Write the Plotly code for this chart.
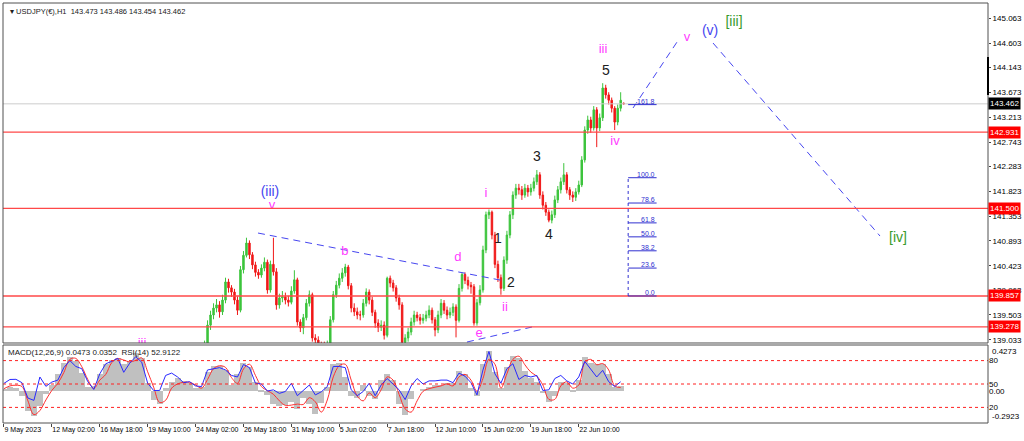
import plotly.graph_objects as go

# USDJPY H1 - candles grouped 4 bars each, x = H1 bar number counted from 9 May 2023
candle_start = 268
candle_step = 4

opens = [138.70, 138.94, 139.31, 139.50, 139.63, 139.69, 139.56, 139.78, 140.12, 140.01,
         139.93, 139.78, 139.59, 140.35, 140.62, 140.85, 140.63, 140.44, 140.30, 140.25,
         140.38, 140.49, 139.97, 140.45, 140.31, 139.69, 139.82, 139.84, 139.78, 139.74,
         139.95, 140.16, 139.37, 139.26, 139.45, 139.72, 139.88, 139.07, 139.03, 138.94,
         138.94, 138.84, 138.88, 139.41, 139.88, 140.06, 140.19, 140.29, 140.40, 140.05,
         139.63, 139.56, 139.50, 139.50, 139.72, 139.93, 139.78, 139.55, 139.35, 139.27,
         139.31, 139.12, 140.19, 140.10, 140.01, 139.82, 139.69, 138.99, 139.07, 139.18,
         139.37, 139.50, 139.45, 139.40, 139.44, 139.50, 139.59, 139.41, 139.22, 139.50,
         139.72, 139.59, 139.50, 139.55, 139.65, 139.40, 140.00, 140.26, 140.15, 140.06,
         140.03, 139.35, 139.73, 139.97, 140.72, 141.38, 141.43, 141.00, 140.45, 140.20,
         140.00, 140.53, 141.00, 141.38, 141.75, 141.88, 141.85, 141.75, 141.88, 141.81,
         141.88, 142.00, 142.13, 141.75, 141.56, 141.43, 141.28, 141.38, 141.66, 141.85,
         142.00, 142.13, 141.85, 141.75, 141.71, 141.81, 141.94, 142.41, 142.97, 143.16,
         143.01, 143.35, 143.01, 143.20, 143.76, 143.63, 143.53, 143.38, 143.12, 143.38,
         143.473]
highs = [139.02, 139.40, 139.58, 139.72, 139.80, 139.76, 139.88, 140.20, 140.18, 140.06,
         139.99, 139.85, 140.42, 140.70, 140.95, 140.90, 140.68, 140.50, 140.36, 140.45,
         140.58, 140.54, 140.52, 140.95, 140.38, 139.90, 139.95, 139.92, 139.86, 140.04,
         140.34, 140.20, 139.42, 139.52, 139.80, 139.96, 139.92, 139.14, 139.10, 139.00,
         139.00, 139.02, 139.48, 139.95, 140.14, 140.28, 140.38, 140.46, 140.44, 140.10,
         139.72, 139.64, 139.58, 139.80, 140.00, 139.98, 139.84, 139.60, 139.42, 139.40,
         139.38, 140.22, 140.24, 140.16, 140.06, 139.88, 139.74, 139.14, 139.26, 139.45,
         139.58, 139.56, 139.52, 139.52, 139.58, 139.68, 139.64, 139.46, 139.58, 139.80,
         139.78, 139.66, 139.64, 139.72, 139.70, 140.08, 140.30, 140.30, 140.22, 140.12,
         140.08, 139.80, 140.06, 140.80, 141.44, 141.48, 141.46, 141.06, 140.52, 140.26,
         140.60, 141.08, 141.45, 141.82, 141.96, 141.96, 141.92, 141.96, 141.94, 141.96,
         142.08, 142.22, 142.18, 141.82, 141.62, 141.48, 141.46, 141.74, 141.92, 142.08,
         142.35, 142.18, 141.90, 141.82, 141.88, 142.02, 142.48, 143.04, 143.24, 143.22,
         143.42, 143.40, 143.28, 143.85, 143.82, 143.68, 143.58, 143.42, 143.45, 143.68,
         143.486]
lows = [138.62, 138.88, 139.22, 139.42, 139.55, 139.45, 139.50, 139.72, 139.92, 139.84,
        139.70, 139.50, 139.55, 140.28, 140.58, 140.55, 140.36, 140.22, 140.18, 140.20,
        140.32, 139.90, 139.92, 140.24, 139.60, 139.62, 139.74, 139.70, 139.66, 139.70,
        139.90, 139.30, 139.18, 139.14, 139.40, 139.66, 139.00, 138.95, 138.86, 138.85,
        138.76, 138.78, 138.84, 139.36, 139.82, 140.00, 140.12, 140.22, 139.98, 139.55,
        139.48, 139.42, 139.40, 139.45, 139.66, 139.70, 139.48, 139.26, 139.18, 139.20,
        139.04, 139.08, 140.02, 139.94, 139.75, 139.60, 138.92, 138.90, 139.00, 139.12,
        139.30, 139.38, 139.32, 139.34, 139.38, 139.44, 139.34, 139.10, 139.16, 139.44,
        139.52, 139.42, 139.44, 139.48, 139.08, 139.36, 139.94, 140.08, 139.98, 139.90,
        139.30, 139.30, 139.68, 139.92, 140.66, 141.30, 140.92, 140.38, 140.12, 139.88,
        139.95, 140.46, 140.94, 141.30, 141.68, 141.76, 141.66, 141.70, 141.72, 141.74,
        141.82, 141.94, 141.68, 141.48, 141.36, 141.24, 141.22, 141.32, 141.60, 141.78,
        141.94, 141.78, 141.66, 141.62, 141.64, 141.76, 141.90, 142.36, 142.90, 142.92,
        142.96, 142.65, 142.95, 143.14, 143.56, 143.45, 143.30, 142.97, 143.06, 143.32,
        143.454]
closes = [138.94, 139.31, 139.50, 139.63, 139.69, 139.56, 139.78, 140.12, 140.01, 139.93,
          139.78, 139.59, 140.35, 140.62, 140.85, 140.63, 140.44, 140.30, 140.25, 140.38,
          140.49, 139.97, 140.45, 140.31, 139.69, 139.82, 139.84, 139.78, 139.74, 139.95,
          140.16, 139.37, 139.26, 139.45, 139.72, 139.88, 139.07, 139.03, 138.94, 138.94,
          138.84, 138.88, 139.41, 139.88, 140.06, 140.19, 140.29, 140.40, 140.05, 139.63,
          139.56, 139.50, 139.50, 139.72, 139.93, 139.78, 139.55, 139.35, 139.27, 139.31,
          139.12, 140.19, 140.10, 140.01, 139.82, 139.69, 138.99, 139.07, 139.18, 139.37,
          139.50, 139.45, 139.40, 139.44, 139.50, 139.59, 139.41, 139.22, 139.50, 139.72,
          139.59, 139.50, 139.55, 139.65, 139.40, 140.00, 140.26, 140.15, 140.06, 140.03,
          139.35, 139.73, 139.97, 140.72, 141.38, 141.43, 141.00, 140.45, 140.20, 140.00,
          140.53, 141.00, 141.38, 141.75, 141.88, 141.85, 141.75, 141.88, 141.81, 141.88,
          142.00, 142.13, 141.75, 141.56, 141.43, 141.28, 141.38, 141.66, 141.85, 142.00,
          142.13, 141.85, 141.75, 141.71, 141.81, 141.94, 142.41, 142.97, 143.16, 143.01,
          143.35, 143.01, 143.20, 143.76, 143.63, 143.53, 143.38, 143.12, 143.38, 143.53,
          143.462]

# indicator window: one value every 8 H1 bars
ind_step = 8
macd_hist = [0.021, 0.038, 0.027, -0.044, -0.177, -0.227, -0.133, -0.021, 0.059, 0.156,
             0.265, 0.321, 0.280, 0.168, 0.044, 0.050, 0.162, 0.256, 0.292, 0.309,
             0.250, 0.280, 0.351, 0.309, 0.074, -0.080, -0.118, 0.029, 0.088, 0.127,
             0.097, 0.074, 0.029, 0.044, 0.177, 0.236, 0.236, 0.197, 0.059, 0.162,
             0.262, 0.221, 0.088, 0.006, -0.038, -0.118, -0.139, -0.127, -0.097, -0.162,
             -0.059, -0.118, -0.206, -0.109, 0.044, 0.250, 0.262, 0.133, -0.044, -0.059,
             0.059, -0.044, -0.068, 0.103, 0.162, 0.103, -0.118, -0.215, -0.074, 0.000,
             0.024, 0.044, 0.059, 0.059, 0.074, 0.080, 0.186, 0.162, 0.029, -0.044,
             0.250, 0.374, 0.177, 0.029, 0.221, 0.324, 0.309, 0.192, 0.127, 0.088,
             -0.015, -0.097, -0.044, 0.088, 0.080, 0.015, 0.103, 0.315, 0.265, 0.250,
             0.250, 0.162, 0.044, 0.047]
macd_signal = [0.024, 0.050, 0.056, 0.044, -0.088, -0.215, -0.177, -0.080, 0.009, 0.074,
               0.174, 0.295, 0.304, 0.227, 0.109, 0.027, 0.103, 0.156, 0.265, 0.301,
               0.289, 0.271, 0.286, 0.309, 0.180, 0.038, -0.103, -0.083, 0.029, 0.068,
               0.083, 0.083, 0.059, 0.029, 0.109, 0.209, 0.236, 0.221, 0.127, 0.074,
               0.206, 0.250, 0.147, 0.044, 0.006, -0.027, -0.088, -0.130, -0.127, -0.118,
               -0.121, -0.059, -0.097, -0.192, -0.080, 0.133, 0.236, 0.250, 0.103, -0.044,
               -0.088, -0.015, -0.059, 0.015, 0.133, 0.103, -0.029, -0.162, -0.192, -0.088,
               0.000, 0.024, 0.038, 0.050, 0.068, 0.050, 0.133, 0.156, 0.103, 0.000,
               0.118, 0.295, 0.250, 0.029, 0.162, 0.295, 0.324, 0.245, 0.177, 0.139,
               0.059, -0.074, -0.074, 0.050, 0.088, 0.029, 0.059, 0.265, 0.295, 0.245,
               0.256, 0.197, 0.050, 0.035]
rsi = [50.8, 55.8, 56.0, 51.7, 32.0, 29.0, 59.0, 47.0, 52.5, 55.0,
       71.0, 80.0, 72.5, 69.6, 53.0, 43.0, 63.0, 76.0, 79.0, 83.0,
       65.0, 76.7, 85.0, 78.0, 51.0, 41.7, 41.7, 61.0, 64.0, 59.0,
       51.7, 53.0, 47.5, 46.7, 68.0, 69.6, 71.0, 68.0, 61.0, 59.0,
       75.0, 71.0, 51.0, 50.0, 41.0, 42.5, 38.0, 40.4, 51.0, 35.0,
       41.7, 48.7, 36.0, 40.0, 46.7, 72.5, 72.5, 71.0, 42.5, 35.0,
       40.4, 51.0, 35.0, 48.7, 57.0, 50.0, 42.5, 30.0, 47.5, 57.0,
       50.0, 54.0, 54.0, 55.0, 55.0, 51.7, 64.0, 60.0, 51.7, 36.0,
       68.0, 91.7, 63.0, 51.0, 69.6, 76.0, 55.8, 61.0, 59.0, 61.0,
       41.7, 42.5, 57.0, 61.0, 54.0, 50.0, 59.0, 79.0, 69.6, 59.0,
       67.5, 53.0, 46.7, 52.9]

tick_bars = [0, 64, 128, 192, 256, 320, 384, 448, 512, 576, 640, 704, 768]
tick_text = ["9 May 2023", "12 May 02:00", "16 May 18:00", "19 May 10:00", "24 May 02:00",
             "26 May 18:00", "31 May 10:00", "5 Jun 02:00", "7 Jun 18:00", "12 Jun 10:00",
             "15 Jun 02:00", "19 Jun 18:00", "22 Jun 10:00"]
price_ticks = [139.033, 139.503, 139.963, 140.423, 140.893, 141.353, 141.823,
               142.283, 142.743, 143.213, 143.673, 144.143, 144.603, 145.063]

red_levels = [142.931, 141.500, 139.857, 139.278]
last_price = 143.462

# fibonacci from the wave ii low
fib_low = 139.857
fib_high = 142.076
fib_ratios = [0.0, 23.6, 38.2, 50.0, 61.8, 78.6, 100.0, 161.8]
fib_bars = [834, 872]

# trend / projection lines (bar, price)
upper_line = ([339.4, 669.4], [141.038, 140.138])
lower_line = ([618.6, 705.5], [138.993, 139.275])
proj_up = ([840.5, 899.3], [143.384, 144.622])
proj_down = ([947.4, 1170.5], [144.603, 140.982])

# wave counts
pink_labels = ["v", "b", "d", "e", "i", "ii", "iii", "iii", "iv", "v"]
pink_x = [358.1, 455.6, 606.6, 634.7, 644.0, 669.4, 184.4, 800.4, 816.4, 912.6]
pink_y = [141.55, 140.68, 140.57, 139.14, 141.77, 139.63, 138.97, 144.47, 142.75, 144.70]
black_labels = ["1", "2", "3", "4", "5"]
black_x = [660.0, 677.4, 712.2, 728.2, 804.4]
black_y = [140.91, 140.10, 142.46, 141.00, 144.06]
blue_labels = ["(iii)", "(v)"]
blue_x = [355.4, 943.4]
blue_y = [141.79, 144.81]
green_labels = ["[iii]", "[iv]"]
green_x = [975.4, 1194.6]
green_y = [144.98, 140.93]

GREEN = "#3cc43c"
RED = "#f01818"
BLUE = "#4646f0"
PINK = "#ff3cff"
FONT = "Liberation Sans"

candle_x = [candle_start + candle_step * i for i in range(len(closes))]
ind_x = [ind_step * i for i in range(len(rsi))]

fig = go.Figure()

fig.add_trace(go.Bar(x=ind_x, y=macd_hist, width=ind_step, xaxis="x", yaxis="y2",
                     marker=dict(color="#c0c0c0", line=dict(width=0)), hoverinfo="skip"))
fig.add_trace(go.Scatter(x=ind_x, y=macd_signal, mode="lines", xaxis="x", yaxis="y2",
                         line=dict(color="#ff3030", width=1, shape="spline"), hoverinfo="skip"))
fig.add_trace(go.Scatter(x=ind_x, y=rsi, mode="lines", xaxis="x", yaxis="y3",
                         line=dict(color="#2828ff", width=1), hoverinfo="skip"))

fig.add_trace(go.Candlestick(x=candle_x, open=opens, high=highs, low=lows, close=closes,
                             xaxis="x", yaxis="y", whiskerwidth=0,
                             increasing=dict(line=dict(color=GREEN, width=1), fillcolor=GREEN),
                             decreasing=dict(line=dict(color=RED, width=1), fillcolor=RED),
                             hoverinfo="skip"))

for xs, ys in [upper_line, lower_line, proj_up, proj_down]:
    fig.add_trace(go.Scatter(x=xs, y=ys, mode="lines", xaxis="x", yaxis="y",
                             line=dict(color=BLUE, width=1, dash="7px,5px"), hoverinfo="skip"))

for labels, xs, ys, colour, size in [(pink_labels, pink_x, pink_y, PINK, 13),
                                     (black_labels, black_x, black_y, "#202020", 14),
                                     (blue_labels, blue_x, blue_y, BLUE, 14),
                                     (green_labels, green_x, green_y, "#3a9a2a", 14)]:
    fig.add_trace(go.Scatter(x=xs, y=ys, text=labels, mode="text", textposition="middle center",
                             xaxis="x", yaxis="y", cliponaxis=True,
                             textfont=dict(family=FONT, size=size, color=colour), hoverinfo="skip"))

shapes = []
# horizontal levels
for lvl in red_levels:
    shapes.append(dict(type="line", xref="paper", x0=0, x1=1, yref="y", y0=lvl, y1=lvl,
                       line=dict(color="#ff4848", width=1.3)))
shapes.append(dict(type="line", xref="paper", x0=0, x1=1, yref="y", y0=last_price, y1=last_price,
                   line=dict(color="#cccccc", width=1)))
# fibonacci
fib_prices = [fib_low + r / 100 * (fib_high - fib_low) for r in fib_ratios]
for p in fib_prices:
    shapes.append(dict(type="line", xref="x", x0=fib_bars[0], x1=fib_bars[1], yref="y", y0=p, y1=p,
                       line=dict(color="#3030d0", width=1)))
shapes.append(dict(type="line", xref="x", x0=fib_bars[0], x1=fib_bars[0], yref="y",
                   y0=fib_low, y1=fib_high, line=dict(color="#3030d0", width=1, dash="dot")))
# rsi levels
for lvl in [80, 50, 20]:
    shapes.append(dict(type="line", xref="paper", x0=0, x1=1, yref="y3", y0=lvl, y1=lvl,
                       line=dict(color="#ff2020", width=1, dash="3px,3px")))
# frames
shapes.append(dict(type="rect", xref="paper", yref="paper", x0=0, x1=1, y0=0.1905, y1=1,
                   line=dict(color="#505050", width=1)))
shapes.append(dict(type="rect", xref="paper", yref="paper", x0=0, x1=1, y0=0, y1=0.1857,
                   line=dict(color="#505050", width=1)))
shapes.append(dict(type="line", xref="paper", x0=1, x1=1, yref="y", y0=143.63, y1=144.34,
                   line=dict(color="black", width=2)))

annotations = []
for lvl in red_levels:
    annotations.append(dict(xref="paper", x=1, xanchor="left", xshift=0, yref="y", y=lvl,
                            text=f"{lvl:.3f}", showarrow=False, bgcolor="#ff0000", borderpad=1,
                            font=dict(family=FONT, size=8, color="white")))
annotations.append(dict(xref="paper", x=1, xanchor="left", xshift=0, yref="y", y=last_price,
                        text=f"{last_price:.3f}", showarrow=False, bgcolor="black", borderpad=1,
                        font=dict(family=FONT, size=8, color="white")))
for r, p in zip(fib_ratios, fib_prices):
    annotations.append(dict(xref="x", x=fib_bars[1], xanchor="right", yref="y", y=p, yanchor="bottom",
                            text=f"{r:.1f}", showarrow=False, yshift=-2,
                            font=dict(family=FONT, size=7, color="#3030d0")))
annotations.append(dict(xref="paper", x=0, xanchor="left", xshift=5, yref="paper", y=1, yanchor="top",
                        yshift=-2, text="▾ USDJPY(€),H1  143.473 143.486 143.454 143.462",
                        showarrow=False, font=dict(family=FONT, size=7.5, color="#202020")))
annotations.append(dict(xref="paper", x=0, xanchor="left", xshift=3, yref="paper", y=0.1857,
                        yanchor="top", yshift=-1,
                        text="MACD(12,26,9) 0.0473 0.0352  RSI(14) 52.9122",
                        showarrow=False, font=dict(family=FONT, size=8, color="#202020")))
annotations.append(dict(xref="paper", x=1, xanchor="left", xshift=2, yref="y2 domain", y=1,
                        yanchor="top", text="0.4273", showarrow=False,
                        font=dict(family=FONT, size=8, color="black")))
annotations.append(dict(xref="paper", x=1, xanchor="left", xshift=2, yref="y2 domain", y=0,
                        yanchor="bottom", text="-0.2923", showarrow=False,
                        font=dict(family=FONT, size=8, color="black")))

fig.update_layout(
    width=1024, height=441,
    margin=dict(l=3, r=36, t=3, b=18, autoexpand=False),
    paper_bgcolor="white", plot_bgcolor="white",
    showlegend=False,
    font=dict(family=FONT, size=8, color="black"),
    bargap=0,
    shapes=shapes,
    annotations=annotations,
    xaxis=dict(domain=[0, 1], range=[-1.3, 1314.8], anchor="y2", automargin=False,
               tickvals=tick_bars, ticktext=tick_text, ticks="outside", ticklen=3, tickangle=0,
               ticklabelposition="outside right", showgrid=False, zeroline=False,
               rangeslider=dict(visible=False), tickfont=dict(size=7)),
    yaxis=dict(domain=[0.1905, 1], range=[138.975, 145.354], side="right", anchor="x",
               automargin=False, tickvals=price_ticks, ticktext=[f"{v:.3f}" for v in price_ticks],
               ticks="outside", ticklen=2, showgrid=False, zeroline=False, tickfont=dict(size=8)),
    yaxis2=dict(domain=[0, 0.1857], range=[-0.2923, 0.4273], side="right", anchor="x",
                automargin=False, tickvals=[0], ticktext=["0.00"], ticks="", showgrid=False,
                zeroline=False, tickfont=dict(size=8)),
    yaxis3=dict(overlaying="y2", range=[0, 100], side="right", anchor="x", automargin=False,
                tickvals=[20, 50, 80], ticks="", showgrid=False, zeroline=False,
                tickfont=dict(size=8)),
)

# the page's default body margin would push the chart 8px off its place
fig.write_html("out.html", config={"displayModeBar": False},
               post_script="document.body.style.margin='0px';")
